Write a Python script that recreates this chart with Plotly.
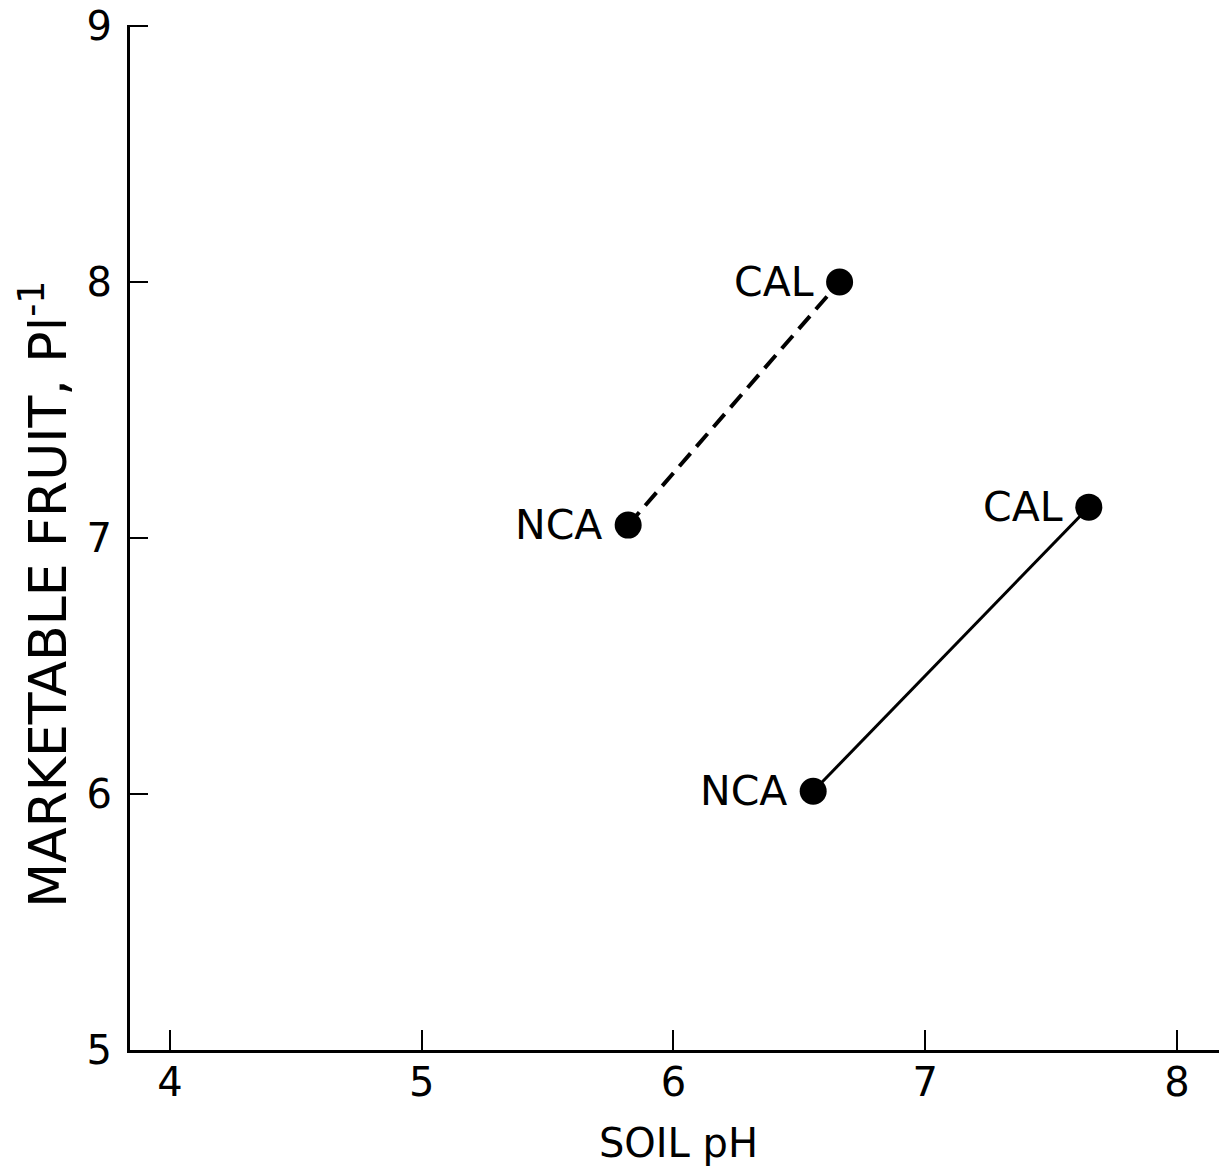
import plotly.graph_objects as go

# Data
soil_ph_dashed = [5.82, 6.66]
fruit_dashed = [7.05, 8.0]
labels_dashed = ["NCA", "CAL"]

soil_ph_solid = [6.555, 7.65]
fruit_solid = [6.01, 7.12]
labels_solid = ["NCA", "CAL"]

x_ticks = [4, 5, 6, 7, 8]
y_ticks = [5, 6, 7, 8, 9]

x_title = "SOIL pH"
y_title = "MARKETABLE FRUIT, Pl<sup>-1</sup>"

FONT = "DejaVu Sans, Liberation Sans, sans-serif"

fig = go.Figure()
fig.add_trace(go.Scatter(
    x=soil_ph_dashed, y=fruit_dashed, mode="lines+markers",
    line=dict(color="black", width=4, dash="17px,9px"),
    marker=dict(color="black", size=27),
    showlegend=False, hoverinfo="skip"))
fig.add_trace(go.Scatter(
    x=soil_ph_solid, y=fruit_solid, mode="lines+markers",
    line=dict(color="black", width=3),
    marker=dict(color="black", size=27),
    showlegend=False, hoverinfo="skip"))

for xs, ys, ls in [(soil_ph_dashed, fruit_dashed, labels_dashed),
                   (soil_ph_solid, fruit_solid, labels_solid)]:
    for x, y, t in zip(xs, ys, ls):
        fig.add_annotation(x=x, y=y, text=t, showarrow=False,
                           xanchor="right", yanchor="middle", xshift=-24, yshift=0,
                           font=dict(family=FONT, size=41, color="black"))

# y-axis title (placed slightly below centre as in the original)
fig.add_annotation(xref="paper", yref="paper", x=-0.0785, y=0.445, text=y_title,
                   textangle=-90, showarrow=False, xanchor="center", yanchor="middle",
                   font=dict(family=FONT, size=52, color="black"))

fig.update_layout(
    width=1227, height=1174,
    margin=dict(l=122, r=8, t=17, b=132),
    paper_bgcolor="white", plot_bgcolor="white",
    font=dict(family=FONT, color="black"),
)
fig.update_xaxes(
    range=[3.841, 8.199], tickvals=x_ticks, ticktext=[str(v) for v in x_ticks],
    ticks="inside", ticklen=20, tickwidth=2, tickcolor="black",
    showline=True, linecolor="black", linewidth=3, showgrid=False, zeroline=False,
    tickfont=dict(size=40, family=FONT, color="black"), ticklabelstandoff=-5,
    automargin=False,
    title=dict(text=x_title, font=dict(size=40, family=FONT, color="black"), standoff=25),
)
fig.update_yaxes(
    range=[4.999, 9.004], tickvals=y_ticks, ticktext=[str(v) for v in y_ticks],
    ticks="inside", ticklen=18, tickwidth=2, tickcolor="black",
    showline=True, linecolor="black", linewidth=3, showgrid=False, zeroline=False,
    tickfont=dict(size=40, family=FONT, color="black"), ticklabelstandoff=7,
    ticklabeloverflow="allow",
    automargin=False,
)

fig.write_html("out.html")
